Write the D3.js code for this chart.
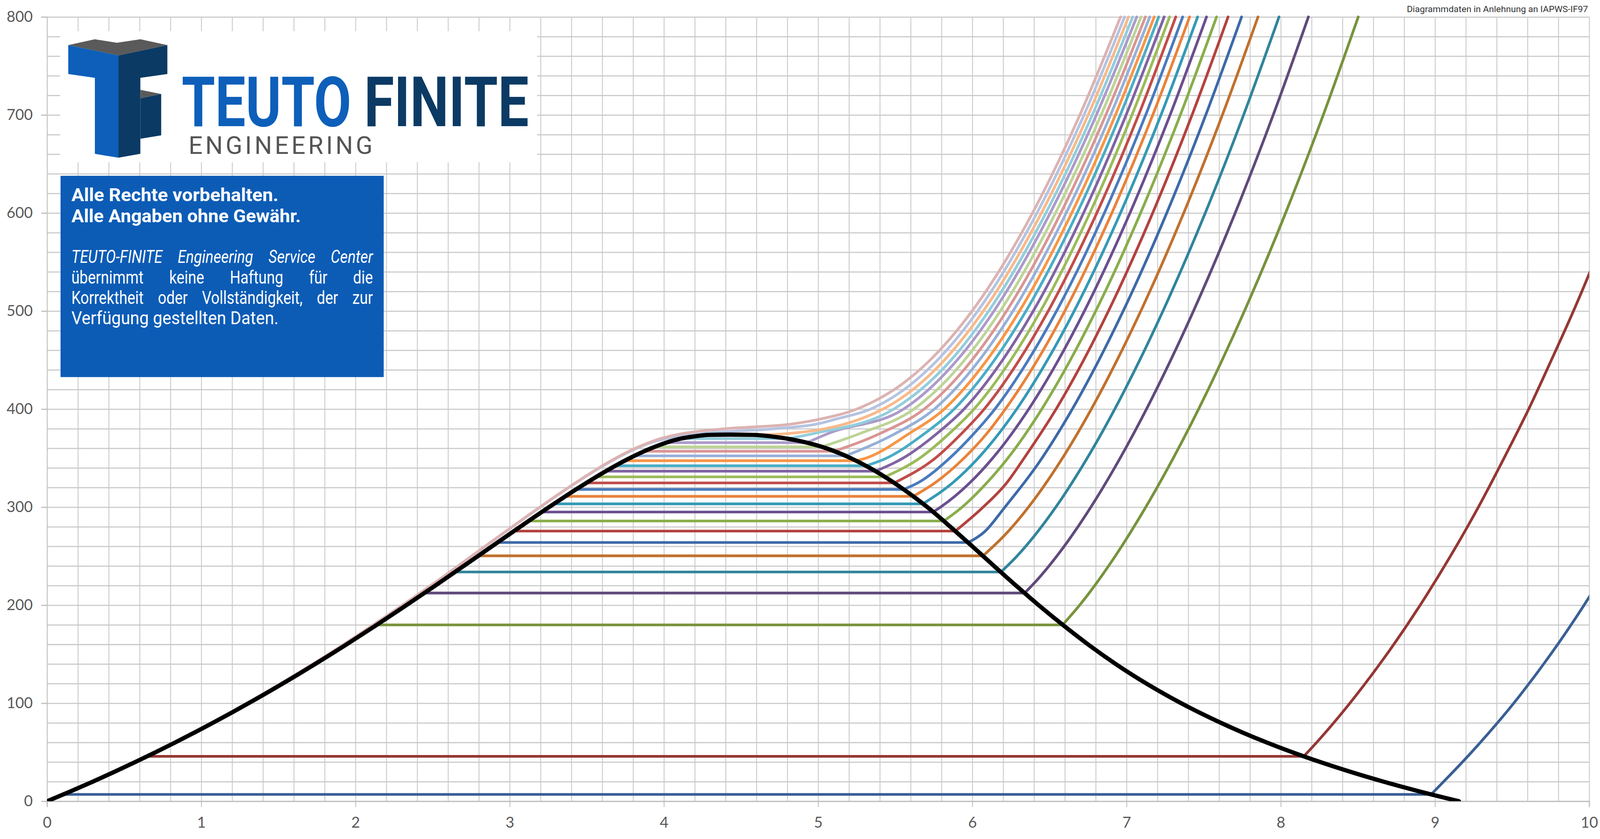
<!DOCTYPE html>
<html>
<head>
<meta charset="utf-8">
<script src="https://cdn.jsdelivr.net/npm/d3@7"></script>
<style>
  html, body { margin: 0; padding: 0; background: #fff; overflow: hidden; }
  svg { display: block; }
</style>
</head>
<body>
<svg id="chart"></svg>
<script>
"use strict";

// saturation line (water), T in °C, s in kJ/(kg K)
const satT  = [0.01, 10, 20, 30, 40, 50, 60, 70, 80, 90, 100, 120, 140, 160, 180, 200, 220, 240, 260, 280, 300, 320, 340, 350, 360, 365.75, 369.83, 372.0, 373.71, 373.95];
const satSL = [0, 0.1511, 0.2965, 0.4368, 0.5724, 0.7038, 0.8313, 0.9551, 1.0756, 1.1929, 1.3072, 1.5279, 1.7392, 1.9426, 2.1392, 2.3305, 2.5177, 2.7020, 2.8849, 3.0685, 3.2552, 3.4494, 3.6601, 3.7784, 3.9167, 4.0146, 4.1071, 4.19, 4.2942, 4.4070];
const satSV = [9.1555, 8.8998, 8.6660, 8.4520, 8.2555, 8.0748, 7.9081, 7.7540, 7.6111, 7.4781, 7.3541, 7.1291, 6.9294, 6.7502, 6.5857, 6.4302, 6.2830, 6.1406, 5.9998, 5.8571, 5.7081, 5.5372, 5.3356, 5.2110, 5.0536, 4.9269, 4.8013, 4.70, 4.5799, 4.4070];

// isobars below the critical point (bar)
const isoP    = ["0,01", "0,1", "10", "20", "30", "40", "50", "60", "70", "80", "90", "100", "110", "120", "130", "140", "150", "160", "170", "180", "190", "200", "210", "220"];
const isoTsat = [6.97, 45.81, 179.88, 212.38, 233.85, 250.35, 263.94, 275.59, 285.83, 295.01, 303.35, 311.00, 318.08, 324.68, 330.86, 336.67, 342.16, 347.36, 352.29, 356.99, 361.47, 365.75, 369.83, 373.71];
const isoSL   = [0.1059, 0.6492, 2.1379, 2.4468, 2.6455, 2.7961, 2.9210, 3.0278, 3.1224, 3.2081, 3.2870, 3.3603, 3.4289, 3.4961, 3.5604, 3.6231, 3.6848, 3.7461, 3.8082, 3.8720, 3.9396, 4.0146, 4.1071, 4.2942];
const isoSV   = [8.9749, 8.1488, 6.5850, 6.3390, 6.1856, 6.0696, 5.9737, 5.8902, 5.8148, 5.7450, 5.6791, 5.6159, 5.5544, 5.4939, 5.4336, 5.3727, 5.3108, 5.2463, 5.1778, 5.1044, 5.0228, 4.9269, 4.8013, 4.5799];

// superheated steam: entropy at these temperatures (null = not on that isobar)
const supT = [50, 100, 150, 200, 225, 250, 275, 300, 325, 350, 375, 400, 450, 500, 600, 700, 800];
const n = null;
const supS = [
  [9.2368, 9.5106, 9.7509, 9.9665, n, 10.1629, n, n, n, n, n, n, n, n, n, n, n],
  [8.1741, 8.4479, 8.6882, 8.9038, n, 9.1002, n, 9.2813, n, 9.4478, n, 9.6077, 9.7547, 9.8978, 10.1608, n, n],
  [n, n, n, 6.6956, n, 6.9265, n, 7.1246, n, 7.3029, n, 7.4670, 7.6198, 7.7642, 8.0311, 8.2755, 8.5024],
  [n, n, n, n, 6.4160, 6.5475, n, 6.7684, n, 6.9583, n, 7.1292, 7.2866, 7.4337, 7.7043, 7.9509, 8.1791],
  [n, n, n, n, n, 6.2893, n, 6.5412, n, 6.7449, n, 6.9235, 7.0856, 7.2359, 7.5103, 7.7590, 7.9885],
  [n, n, n, n, n, n, 6.2312, 6.3639, n, 6.5843, n, 6.7714, 6.9386, 7.0922, 7.3706, 7.6214, 7.8523],
  [n, n, n, n, n, n, 6.0800, 6.2111, n, 6.4516, n, 6.6483, 6.8210, 6.9781, 7.2605, 7.5136, 7.7458],
  [n, n, n, n, n, n, n, 6.0703, 6.2240, 6.3357, n, 6.5432, 6.7219, 6.8826, 7.1693, 7.4247, 7.6582],
  [n, n, n, n, n, n, n, 5.9337, 6.0950, 6.2305, n, 6.4502, 6.6353, 6.8000, 7.0910, 7.3487, 7.5836],
  [n, n, n, n, n, n, n, 5.7937, 5.9850, 6.1321, n, 6.3658, 6.5579, 6.7266, 7.0221, 7.2823, 7.5185],
  [n, n, n, n, n, n, n, n, 5.8738, 6.0380, n, 6.2877, 6.4872, 6.6603, 6.9605, 7.2233, 7.4606],
  [n, n, n, n, n, n, n, n, 5.7596, 5.9460, 6.0933, 6.2141, 6.4219, 6.5995, 6.9045, 7.1700, 7.4085],
  [n, n, n, n, n, n, n, n, 5.6500, 5.8530, 6.0100, 6.1460, 6.3630, 6.5460, 6.8560, 7.1240, 7.3640],
  [n, n, n, n, n, n, n, n, n, 5.7600, 5.9300, 6.0770, 6.3040, 6.4920, 6.8070, 7.0780, 7.3190],
  [n, n, n, n, n, n, n, n, n, 5.6590, 5.8500, 6.0110, 6.2490, 6.4420, 6.7620, 7.0350, 7.2790],
  [n, n, n, n, n, n, n, n, n, 5.5510, 5.7700, 5.9460, 6.1960, 6.3950, 6.7210, 6.9970, 7.2440],
  [n, n, n, n, n, n, n, n, n, 5.4438, 5.6900, 5.8819, 6.1434, 6.3480, 6.6796, 6.9593, 7.2084],
  [n, n, n, n, n, n, n, n, n, 5.3100, 5.5900, 5.8176, 6.0945, 6.3058, 6.6442, 6.9277, 7.1794],
  [n, n, n, n, n, n, n, n, n, n, 5.5000, 5.7533, 6.0456, 6.2635, 6.6088, 6.8962, 7.1505],
  [n, n, n, n, n, n, n, n, n, n, 5.4000, 5.6877, 5.9973, 6.2219, 6.5738, 6.8652, 7.1220],
  [n, n, n, n, n, n, n, n, n, n, 5.2700, 5.6208, 5.9494, 6.1810, 6.5393, 6.8347, 7.0941],
  [n, n, n, n, n, n, n, n, n, n, 5.0635, 5.5539, 5.9016, 6.1400, 6.5048, 6.8043, 7.0662],
  [n, n, n, n, n, n, n, n, n, n, 4.9700, 5.4900, 5.8620, 6.1060, 6.4770, 6.7780, 7.0400],
  [n, n, n, n, n, n, n, n, n, n, 4.8000, 5.4200, 5.8190, 6.0710, 6.4480, 6.7510, 7.0130]
];

// supercritical isobars (230 and 240 bar), whole curve
const scT    = [0.01, 20, 40, 60, 80, 100, 140, 180, 220, 260, 300, 320, 340, 350, 360, 365, 370, 375, 380, 385, 390, 400, 425, 450, 500, 600, 700, 800];
const scS230 = [0, 0.2951, 0.5680, 0.8247, 1.0668, 1.2965, 1.7236, 2.1170, 2.4893, 2.8420, 3.1980, 3.3835, 3.5830, 3.6940, 3.8230, 3.9010, 4.0200, 4.2500, 4.7200, 5.0000, 5.1200, 5.3400, 5.6000, 5.7740, 6.0350, 6.4190, 6.7240, 6.9870];
const scS240 = [0, 0.2950, 0.5678, 0.8244, 1.0664, 1.2960, 1.7230, 2.1160, 2.4880, 2.8400, 3.1950, 3.3800, 3.5780, 3.6880, 3.8140, 3.8900, 3.9800, 4.1200, 4.4000, 4.8400, 5.0200, 5.2500, 5.5400, 5.7260, 5.9980, 6.3900, 6.6970, 6.9610];

const colors = ["#3a5f94", "#953735", "#77933c", "#604a7b", "#31859c", "#c0712e",
  "#3d6aa8", "#b3423f", "#89ad4b", "#6b4f90", "#3599b6", "#e8833a",
  "#4a7bbd", "#c04d4a", "#9bbb59", "#8064a2", "#4bacc6", "#f79646",
  "#95b0d8", "#d99694", "#bdd496", "#ab9bc9", "#93cddd", "#f8b98a",
  "#b5c3e1", "#dcb3b2"];

const xTicks = d3.range(0, 11);
const yTicks = d3.range(0, 801, 100);

const width = 4149;
const height = 2148;
const plotL = 122, plotR = 4121, plotT = 30, plotB = 2064;

const x = d3.scaleLinear().domain([0, 10]).range([plotL, plotR]);
const y = d3.scaleLinear().domain([0, 800]).range([plotB, plotT]);

const svg = d3.select("#chart")
  .attr("width", "100vw").attr("height", "100vh")
  .attr("viewBox", [0, 0, width, height]);
svg.append("rect").attr("width", width).attr("height", height).attr("fill", "#fff");

// grid (minor + major share the same look)
const grid = svg.append("g");
grid.append("g")
  .attr("transform", `translate(0,${plotB})`)
  .call(d3.axisBottom(x).tickValues(d3.range(0, 51).map((i) => i * 0.2))
    .tickSize(-(plotB - plotT)).tickFormat(""))
  .call((g) => g.select(".domain").remove())
  .call((g) => g.selectAll("line").attr("stroke", "#c8c8c8").attr("stroke-width", 2.2));
grid.append("g")
  .attr("transform", `translate(${plotL},0)`)
  .call(d3.axisLeft(y).tickValues(d3.range(0, 801, 20))
    .tickSize(-(plotR - plotL)).tickFormat(""))
  .call((g) => g.select(".domain").remove())
  .call((g) => g.selectAll("line").attr("stroke", "#c8c8c8").attr("stroke-width", 2.8));

// axes with outside tick marks
const labelFont = "Lato, 'Liberation Sans', sans-serif";
svg.append("g")
  .attr("transform", `translate(0,${plotB})`)
  .call(d3.axisBottom(x).tickValues(xTicks).tickSize(15).tickPadding(26).tickFormat(d3.format("d")))
  .call((g) => g.select(".domain").attr("stroke", "#bfbfbf").attr("stroke-width", 3))
  .call((g) => g.selectAll("line").attr("stroke", "#bfbfbf").attr("stroke-width", 2.2))
  .call((g) => g.selectAll("text").attr("font-family", labelFont).attr("font-size", 39).attr("fill", "#595959"));
svg.append("g")
  .attr("transform", `translate(${plotL},0)`)
  .call(d3.axisLeft(y).tickValues(yTicks).tickSize(15).tickPadding(22).tickFormat(d3.format("d")))
  .call((g) => g.select(".domain").attr("stroke", "#bfbfbf").attr("stroke-width", 2.2))
  .call((g) => g.selectAll("line").attr("stroke", "#bfbfbf").attr("stroke-width", 3))
  .call((g) => g.selectAll("text").attr("font-family", labelFont).attr("font-size", 39).attr("fill", "#595959"));

// data
svg.append("clipPath").attr("id", "plotclip")
  .append("rect").attr("x", plotL).attr("y", plotT - 8)
  .attr("width", plotR - plotL).attr("height", plotB - plotT + 8);

const plot = svg.append("g").attr("clip-path", "url(#plotclip)");
const lin = d3.line().x((d) => x(d[0])).y((d) => y(d[1]));
const smooth = d3.line().x((d) => x(d[0])).y((d) => y(d[1])).curve(d3.curveMonotoneX);

const isobars = isoP.map((p, i) => {
  const liquid = satT.map((t, k) => [satSL[k], t]).filter((d) => d[1] < isoTsat[i]);
  liquid.push([isoSL[i], isoTsat[i]]);
  const wet = liquid.concat([[isoSV[i], isoTsat[i]]]);
  const steam = [[isoSV[i], isoTsat[i]]].concat(
    supT.map((t, k) => [supS[i][k], t]).filter((d) => d[0] !== null)
  );
  return { p, wet, steam, color: colors[i] };
});

const lineStyle = (sel) => sel.attr("fill", "none").attr("stroke-width", 7)
  .attr("stroke-linejoin", "round").attr("stroke-linecap", "round");

const isoG = plot.selectAll("g.iso").data(isobars).join("g").attr("class", "iso");
isoG.append("path").attr("d", (d) => lin(d.wet)).attr("stroke", (d) => d.color).call(lineStyle);
isoG.append("path").attr("d", (d) => smooth(d.steam)).attr("stroke", (d) => d.color).call(lineStyle);

const superCrit = [scS230, scS240];
plot.selectAll("path.sc").data(superCrit).join("path")
  .attr("class", "sc")
  .attr("d", (s) => smooth(s.map((v, k) => [v, scT[k]])))
  .attr("stroke", (s, i) => colors[24 + i])
  .call(lineStyle);

// saturation dome
const dome = satT.map((t, k) => [satSL[k], t])
  .concat(satT.map((t, k) => [satSV[k], t]).reverse().slice(1));
plot.append("path")
  .attr("d", smooth(dome))
  .attr("fill", "none").attr("stroke", "#000").attr("stroke-width", 11)
  .attr("stroke-linejoin", "round").attr("stroke-linecap", "round");

// top right note
svg.append("text")
  .attr("x", 4118).attr("y", 17).attr("text-anchor", "end")
  .attr("font-family", "Roboto, sans-serif").attr("font-size", 23)
  .attr("textLength", 470).attr("lengthAdjust", "spacingAndGlyphs")
  .attr("fill", "#333").text("Diagrammdaten in Anlehnung an IAPWS-IF97");

// logo
const logo = svg.append("g");
logo.append("rect").attr("x", 156).attr("y", 67).attr("width", 1237).attr("height", 340).attr("fill", "#fff");
const lightBlue = "#0d5fba", navy = "#0b3a64", grey = "#5a5a5a";
logo.append("polygon").attr("fill", grey)
  .attr("points", "177,103 246,88 303,97 364,88 434,103 307,130");
logo.append("polygon").attr("fill", lightBlue)
  .attr("points", "177,103 307,130 307,395 246,385 246,188 177,178");
logo.append("polygon").attr("fill", navy)
  .attr("points", "307,130 434,103 434,178 364,188 364,385 307,395");
logo.append("polygon").attr("fill", grey)
  .attr("points", "364,219 418,230 364,241");
logo.append("polygon").attr("fill", navy)
  .attr("points", "364,241 418,230 418,337 364,346");
logo.append("text").attr("x", 471).attr("y", 313)
  .attr("font-family", "Roboto, sans-serif").attr("font-weight", 700).attr("font-size", 180)
  .attr("textLength", 440).attr("lengthAdjust", "spacingAndGlyphs")
  .attr("fill", lightBlue).text("TEUTO");
logo.append("text").attr("x", 944).attr("y", 313)
  .attr("font-family", "Roboto, sans-serif").attr("font-weight", 700).attr("font-size", 180)
  .attr("textLength", 427).attr("lengthAdjust", "spacingAndGlyphs")
  .attr("fill", navy).text("FINITE");
logo.append("text").attr("x", 489).attr("y", 385)
  .attr("font-family", "Roboto, sans-serif").attr("font-weight", 400).attr("font-size", 64)
  .attr("textLength", 477).attr("lengthAdjust", "spacing")
  .attr("fill", "#555").text("ENGINEERING");

// disclaimer box
const box = svg.append("g");
box.append("rect").attr("x", 157).attr("y", 442).attr("width", 838).attr("height", 522).attr("fill", "#0c5cb6");
const boxFont = "Roboto, sans-serif";
const condense = 0.82;   // the box uses a condensed face
// text, baseline, weight, style, justified, fixed width (0 = natural)
function boxLine(txt, yy, weight, style, justify, len) {
  const words = justify ? txt.split(" ") : [txt];
  const nodes = words.map((w) => box.append("text")
    .attr("font-family", boxFont).attr("font-size", 47)
    .attr("font-weight", weight).attr("font-style", style)
    .attr("fill", "#fff").text(w));
  const x0 = 185, x1 = 967;
  if (!justify) {
    const sx = len / nodes[0].node().getComputedTextLength();
    nodes[0].attr("transform", `translate(${x0},${yy}) scale(${sx},1)`);
    return;
  }
  const widths = nodes.map((t) => t.node().getComputedTextLength() * condense);
  const gap = (x1 - x0 - d3.sum(widths)) / (words.length - 1);
  let cx = x0;
  nodes.forEach((t, i) => {
    t.attr("transform", `translate(${cx},${yy}) scale(${condense},1)`);
    cx += widths[i] + gap;
  });
}
boxLine("Alle Rechte vorbehalten.", 508, 700, "normal", false, 537);
boxLine("Alle Angaben ohne Gewähr.", 562, 700, "normal", false, 595);
boxLine("TEUTO-FINITE Engineering Service Center", 668, 400, "italic", true);
boxLine("übernimmt keine Haftung für die", 721, 400, "normal", true);
boxLine("Korrektheit oder Vollständigkeit, der zur", 774, 400, "normal", true);
boxLine("Verfügung gestellten Daten.", 827, 400, "normal", false, 537);
</script>
</body>
</html>
